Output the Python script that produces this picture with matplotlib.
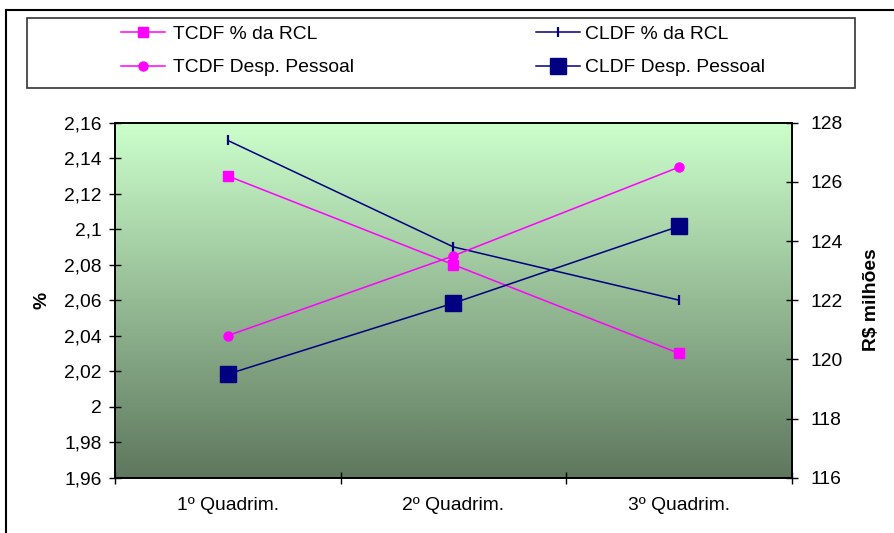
import numpy as np
import matplotlib
matplotlib.use("Agg")
import matplotlib.pyplot as plt
from matplotlib.lines import Line2D
from matplotlib.patches import Rectangle
from matplotlib.ticker import FuncFormatter, FixedLocator

plt.rcParams.update({
    "font.family": ["Liberation Sans", "DejaVu Sans"],
    "font.size": 13.9,
})

categories = ["1º Quadrim.", "2º Quadrim.", "3º Quadrim."]
tcdf_rcl = [2.13, 2.08, 2.03]          # % da RCL (left axis)
cldf_rcl = [2.15, 2.09, 2.06]
tcdf_pessoal = [120.8, 123.5, 126.5]   # R$ milhoes (right axis)
cldf_pessoal = [119.5, 121.9, 124.5]

MAGENTA = "#FF00FF"
NAVY = "#000080"

fig = plt.figure(figsize=(8.94, 5.33), dpi=100)
ax = fig.add_axes([0.1286, 0.1038, 0.7573, 0.666])
ax2 = ax.twinx()

# gradient background, light green at top to dark green at bottom
top = np.array([204, 255, 204]) / 255
bot = np.array([94, 119, 94]) / 255
t = np.linspace(0, 1, 256)[:, None]
grad = (top * (1 - t) + bot * t)[:, None, :]
ax.imshow(grad, extent=[0, 1, 0, 1], transform=ax.transAxes,
          aspect="auto", zorder=0, interpolation="bilinear")

x = np.arange(len(categories))
l1, = ax.plot(x, tcdf_rcl, color=MAGENTA, lw=1.1, marker="s", ms=6.5,
              mec=MAGENTA, label="TCDF % da RCL", zorder=3)
l2, = ax.plot(x, cldf_rcl, color=NAVY, lw=1.1, marker="|", ms=7.5, mew=1.6,
              label="CLDF % da RCL", zorder=3)
l3, = ax2.plot(x, tcdf_pessoal, color=MAGENTA, lw=1.1, marker="o", ms=6.5,
               label="TCDF Desp. Pessoal", zorder=3)
l4, = ax2.plot(x, cldf_pessoal, color=NAVY, lw=1.1, marker="s", ms=11,
               label="CLDF Desp. Pessoal", zorder=3)

ax.set_xlim(-0.5, 2.5)
ax.set_ylim(1.96, 2.16)
ax2.set_ylim(116, 128)
ax.set_yticks(np.linspace(1.96, 2.16, 11))
ax2.set_yticks(np.arange(116, 129, 2))
fmt = FuncFormatter(lambda v, p: f"{v:g}".replace(".", ","))
ax.yaxis.set_major_formatter(fmt)

ax.set_xticks(x)
ax.set_xticklabels(categories)
ax.xaxis.set_minor_locator(FixedLocator([-0.5, 0.5, 1.5, 2.5]))
ax.tick_params(axis="x", which="major", length=0, pad=14)
ax.tick_params(axis="x", which="minor", direction="inout", length=9, width=1)
ax.tick_params(axis="y", direction="inout", length=9, width=1, pad=5)
ax2.tick_params(axis="y", direction="inout", length=9, width=1, pad=9)

for a in (ax, ax2):
    for s in a.spines.values():
        s.set_linewidth(1.2)

ax.set_ylabel("%", fontweight="bold", labelpad=10)
ax2.set_ylabel("R$ milhões", fontweight="bold", labelpad=14)

# legend: two columns, boxed
leg_kw = dict(loc="upper left", frameon=False, borderpad=0, borderaxespad=0,
              handlelength=2.3, labelspacing=0.85)
fig.legend(handles=[l1, l3], bbox_to_anchor=(121 / 894, 1 - 25 / 533),
           handletextpad=0.4, **leg_kw)
fig.legend(handles=[l2, l4], bbox_to_anchor=(536 / 894, 1 - 25 / 533),
           handletextpad=0.25, **leg_kw)
fig.add_artist(Rectangle((27 / 894, 1 - 88 / 533), 828 / 894, 70 / 533,
                         transform=fig.transFigure, fill=False,
                         edgecolor="#333333", lw=1.2))

# outer chart frame (top and left visible)
fig.add_artist(Line2D([6 / 894, 1], [1 - 10 / 533, 1 - 10 / 533],
                      transform=fig.transFigure, color="black", lw=1.5))
fig.add_artist(Line2D([6 / 894, 6 / 894], [0, 1 - 10 / 533],
                      transform=fig.transFigure, color="black", lw=1.5))

fig.savefig("out.png", dpi=100)
